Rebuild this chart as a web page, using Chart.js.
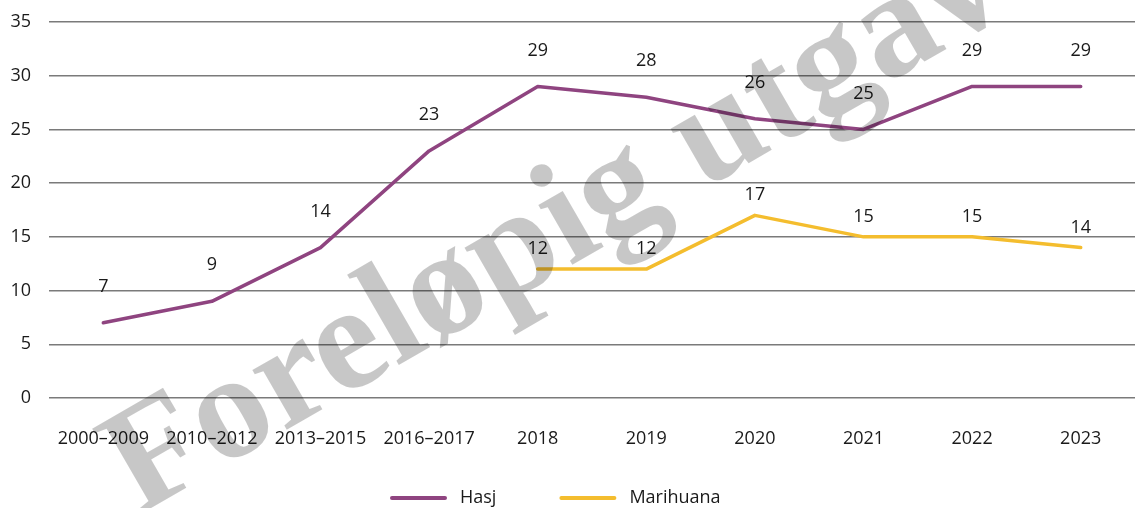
<!DOCTYPE html>
<html>
<head>
<meta charset="utf-8">
<script src="https://cdn.jsdelivr.net/npm/chart.js@4.4.1/dist/chart.umd.min.js"></script>
<style>
  html, body { margin: 0; padding: 0; background: #fff; }
  #wrap { width: 1135px; height: 508px; }
</style>
</head>
<body>
<div id="wrap"><canvas id="graphCanvas"></canvas></div>
<script>
// DATA
const perioder = ['2000–2009', '2010–2012', '2013–2015', '2016–2017', '2018', '2019', '2020', '2021', '2022', '2023'];
const hasj = [7, 9, 14, 23, 29, 28, 26, 25, 29, 29];
const marihuana = [null, null, null, null, 12, 12, 17, 15, 15, 14];
const yTicks = [0, 5, 10, 15, 20, 25, 30, 35];

const FONT = "'Open Sans', 'Noto Sans', sans-serif";

// value labels above the points
const verdiEtiketter = {
    id: 'verdiEtiketter',
    afterDatasetsDraw(chart) {
        const ctx = chart.ctx;
        ctx.save();
        ctx.font = '18px ' + FONT;
        ctx.fillStyle = '#1a1a1a';
        ctx.textAlign = 'center';
        ctx.textBaseline = 'middle';
        chart.data.datasets.forEach((ds, i) => {
            const meta = chart.getDatasetMeta(i);
            meta.data.forEach((pt, j) => {
                const v = ds.data[j];
                if (v === null || v === undefined) return;
                ctx.fillText(String(v), pt.x, pt.y - ds.labelOffset);
            });
        });
        ctx.restore();
    }
};

// legend at the bottom (line + name)
const forklaring = {
    id: 'forklaring',
    afterDraw(chart) {
        const ctx = chart.ctx;
        const y = 498;
        let x = 390;
        ctx.save();
        ctx.font = '18px ' + FONT;
        ctx.textBaseline = 'middle';
        ctx.textAlign = 'left';
        chart.data.datasets.forEach(ds => {
            ctx.strokeStyle = ds.borderColor;
            ctx.lineWidth = 4;
            ctx.lineCap = 'round';
            ctx.beginPath();
            ctx.moveTo(x + 2, y);
            ctx.lineTo(x + 55, y);
            ctx.stroke();
            ctx.fillStyle = '#1a1a1a';
            ctx.fillText(ds.label, x + 70, y);
            x += 70 + ctx.measureText(ds.label).width + 63;
        });
        ctx.restore();
    }
};

// "Foreløpig utgave" watermark
const vannmerke = {
    id: 'vannmerke',
    afterDraw(chart) {
        const ctx = chart.ctx;
        ctx.save();
        ctx.translate(605, 246);
        ctx.rotate(-30 * Math.PI / 180);
        ctx.font = 'bold 150px "Liberation Serif", "Times New Roman", serif';
        ctx.fillStyle = 'rgba(0,0,0,0.22)';
        ctx.textAlign = 'center';
        ctx.textBaseline = 'alphabetic';
        ctx.fillText('Foreløpig utgave', 0, 0);
        ctx.restore();
    }
};

// SETUP BLOCK
const data = {
    labels: perioder,
    datasets: [{
        label: 'Hasj',
        data: hasj,
        borderColor: '#8f4480',
        backgroundColor: '#8f4480',
        borderWidth: 3.5,
        labelOffset: 36
    }, {
        label: 'Marihuana',
        data: marihuana,
        borderColor: '#f4bd2e',
        backgroundColor: '#f4bd2e',
        borderWidth: 3.5,
        labelOffset: 20
    }]
};

// CONFIG BLOCK
const config = {
    type: 'line',
    data,
    options: {
        responsive: true,
        maintainAspectRatio: false,
        animation: false,
        layout: { padding: { top: 22, right: 0, bottom: 50, left: 0 } },
        elements: {
            point: { radius: 0, hoverRadius: 0 },
            line: { tension: 0, borderCapStyle: 'round', borderJoinStyle: 'round' }
        },
        plugins: {
            title: { display: false },
            tooltip: { enabled: false },
            legend: { display: false }
        },
        scales: {
            x: {
                offset: true,
                afterFit(scale) { scale.height = 60; },
                grid: { display: false },
                border: { display: false },
                ticks: {
                    font: { family: FONT, size: 18 },
                    color: '#1a1a1a',
                    padding: 22,
                    maxRotation: 0,
                    autoSkip: false
                }
            },
            y: {
                min: yTicks[0],
                max: yTicks[yTicks.length - 1],
                afterBuildTicks(scale) {
                    scale.ticks = yTicks.map(v => ({ value: v }));
                },
                afterFit(scale) {
                    scale.width = 49;
                    scale.paddingTop = 0;
                    scale.paddingBottom = 0;
                },
                grid: { color: '#7a7a7a', lineWidth: 1.4, drawTicks: false },
                border: { display: false },
                ticks: {
                    font: { family: FONT, size: 18 },
                    color: '#1a1a1a',
                    padding: 18
                }
            }
        }
    },
    plugins: [verdiEtiketter, forklaring, vannmerke]
};

// RENDER BLOCK
const graphCanvas = new Chart(
    document.getElementById('graphCanvas').getContext('2d'),
    config
);
</script>
</body>
</html>
